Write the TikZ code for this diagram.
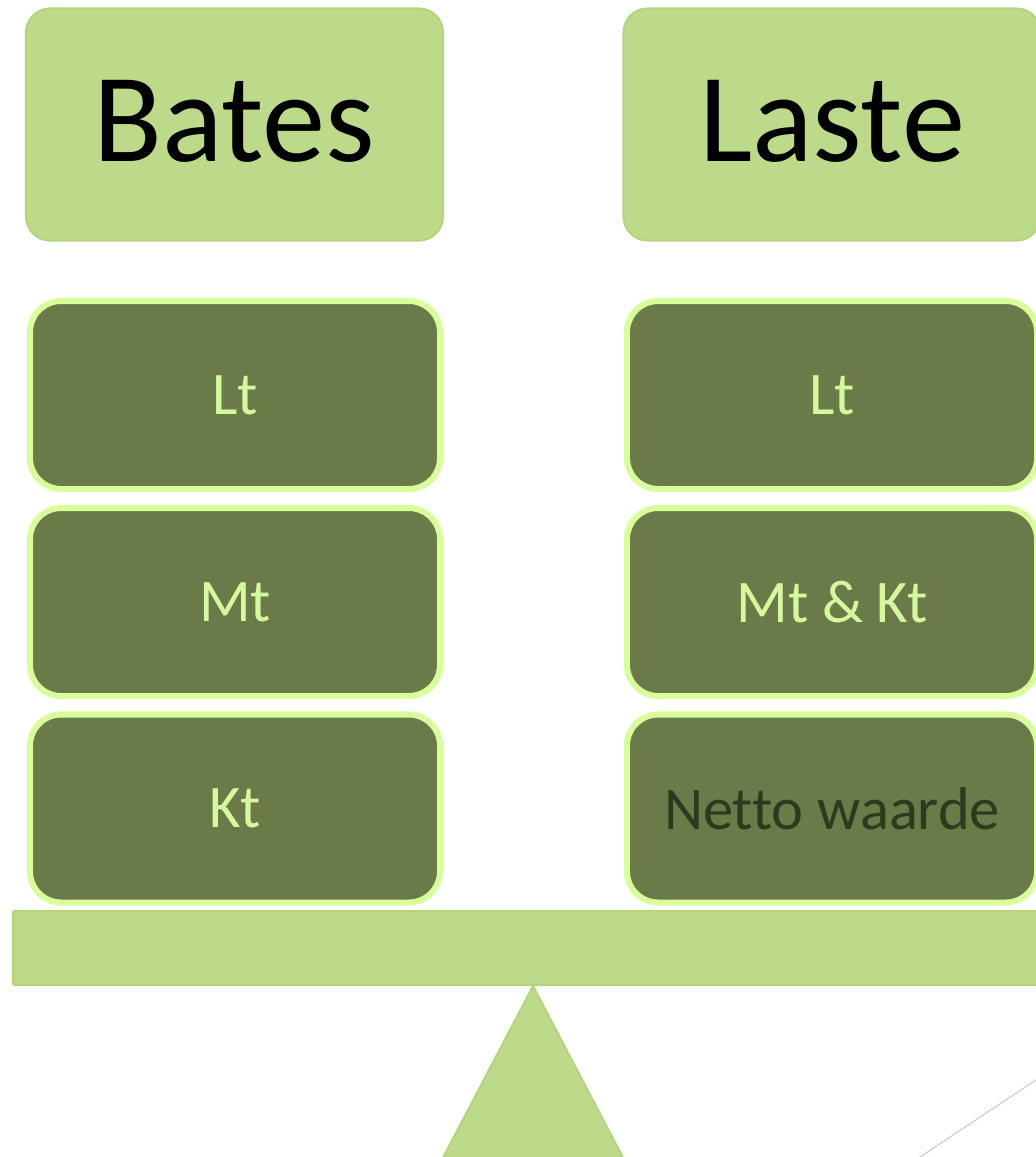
\documentclass[tikz,border=0pt]{standalone}
\usepackage{fontspec}
\setmainfont{Carlito}[Ligatures=CommonOff]
\usetikzlibrary{calc}
\definecolor{pale}{RGB}{189,217,138}
\definecolor{paleline}{RGB}{180,211,126}
\definecolor{moss}{RGB}{106,122,72}
\definecolor{lime}{RGB}{217,255,157}
\definecolor{limetext}{RGB}{214,248,158}
\definecolor{darktext}{RGB}{45,58,30}

\begin{document}
\begin{tikzpicture}[x=0.025cm, y=-0.025cm,
	headbox/.style={draw=paleline, line width=1.4pt, fill=pale, rounded corners=0.6cm,
		minimum width=10.425cm, minimum height=5.8cm, inner sep=0pt, text depth=5pt,
		font=\fontsize{90}{100}\selectfont, text=black},
	itembox/.style={draw=lime, line width=4.3pt, fill=moss, rounded corners=0.78cm,
		minimum width=10.25cm, minimum height=4.7cm, inner sep=0pt,
		font=\fontsize{43}{50}\selectfont, text=limetext},
	beambox/.style={draw=paleline, line width=1.4pt, fill=pale, rounded corners=1.5pt,
		minimum width=26cm, minimum height=1.85cm, inner sep=0pt}]
			%%%%% START %%%%%
			\useasboundingbox (0, 0) rectangle (1036, 1157);
			\clip (0, 0) rectangle (1036, 1157);
			
			% headers
			\node[headbox] (bates) at (234.5, 124.5) {Bates};
			\node[headbox] (laste) at (832, 124.5) {Laste};
			
			% left column
			\node[itembox] (bates-lt) at (235, 395) {Lt};
			\node[itembox] (bates-mt) at (235, 602) {Mt};
			\node[itembox] (bates-kt) at (235, 808.5) {Kt};
			
			% right column
			\node[itembox] (laste-lt) at (832, 395) {Lt};
			\node[itembox] (laste-mtkt) at (832, 602) {Mt \& Kt};
			\node[itembox, text=darktext] (laste-netto) at (832, 808.5) {Netto waarde};
			
			% balance
			\node[beambox] (beam) at (533, 948) {};
			\draw[fill=pale, draw=paleline, line width=1.4pt] (beam.south) -- ++(-97, 185) -- ++(194, 0) -- cycle;
			
			\coordinate (foot) at (905, 1167);
			\coordinate (tip) at (1051, 1070);
			\draw[line width=0.8pt, color=black!20] (foot) -- (tip);
			%%%%% END %%%%%
\end{tikzpicture}
\end{document}
